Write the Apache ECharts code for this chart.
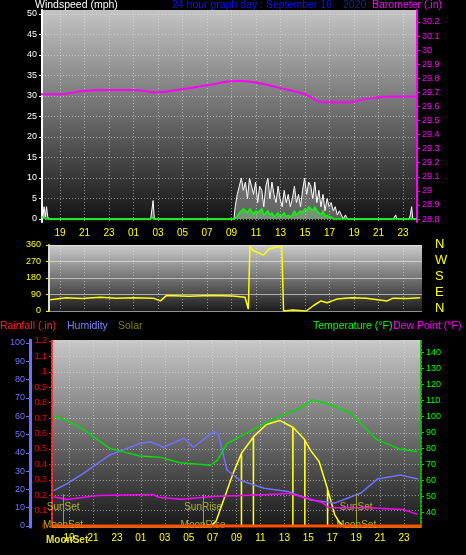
<!DOCTYPE html>
<html>
<head>
<meta charset="utf-8">
<script src="https://cdn.jsdelivr.net/npm/echarts@6/dist/echarts.min.js"></script>
<style>
    html, body { margin: 0; padding: 0; background: #000; }
    #chart { width: 466px; height: 555px; }
</style>
</head>
<body>
<div id="chart"></div>
<script>
// hours counted from 00:00 on the day before (24 = midnight Sep 16)
let hourTicks = [19, 21, 23, 25, 27, 29, 31, 33, 35, 37, 39, 41, 43, 45, 47];

// wind (mph) - quiet stretches
let windHours = [17.5, 17.6, 17.7, 17.8, 17.9, 18.0, 18.1, 26.4, 26.5, 26.6, 26.7, 33.2];
let windGust = [3.5, 0.5, 3, 0.5, 3, 0.5, 0, 0, 0, 4.5, 0, 0];
let windAvg = [0.5, 0.5, 0.3, 0, 0, 0, 0, 0, 0, 0.5, 0, 0];
// windy part of the day, every 10 minutes from 09:18
let activeStart = 33.3;
let gustActive = [3, 6, 8, 10, 7, 9, 5, 10, 8, 6, 9, 4, 8, 7, 3, 8, 10, 5, 9, 6, 4, 8, 5, 3, 7, 4, 6, 3, 5, 8,
    4, 6, 3, 7, 10, 6, 9, 8, 5, 9, 4, 7, 3, 6, 2, 5, 3, 4, 2, 3, 1, 2, 1, 0, 1, 0];
let avgActive = [0, 0.5, 1.5, 2, 2.5, 2, 1.5, 2.5, 2, 1, 2, 1.5, 2, 2.5, 1, 1.5, 2, 1, 1.5, 0.5, 1, 1.5, 0.5, 1, 1.5, 0.5, 1, 0.5, 1, 2,
    1, 1.5, 2, 1.5, 2.5, 2, 3, 2.5, 2, 3, 2, 1.5, 1, 2, 0.5, 1, 0.5, 0.5, 0, 0, 0, 0, 0, 0, 0, 0];
let lateHours = [42.6, 46.2, 46.3, 46.4, 46.5, 47.5, 47.6, 47.7, 47.8, 48.1];
let lateGust = [0, 0, 0, 1, 0, 0, 1, 3, 0, 0];

// barometer (.in)
let baroHours = [17.4, 19.0, 20.9, 22.8, 25.0, 26.9, 28.8, 31.0, 33.4, 35.0, 37.0, 38.9, 40.5, 42.7, 43.8, 45.9, 48.1];
let baroValues = [29.686, 29.686, 29.71, 29.717, 29.717, 29.70, 29.72, 29.75, 29.78, 29.77, 29.73, 29.69, 29.63, 29.63, 29.65, 29.67, 29.67];

// wind direction (deg)
let dirHours = [18.2, 19.5, 20.8, 22.3, 23.6, 25.0, 26.6, 27.2, 27.7, 29.5, 31.3, 33.1, 34.1, 34.37, 34.5, 34.76, 35.6, 36.1, 37.1, 37.2, 37.25, 38.0, 39.1, 39.7, 40.3, 40.8, 41.6, 42.8, 44.0, 45.7, 46.2, 47.3, 48.4];
let dirValues = [62, 72, 68, 75, 70, 72, 70, 55, 85, 80, 84, 82, 75, 10, 350, 330, 305, 340, 355, 360, 0, 5, 0, 30, 55, 45, 65, 72, 70, 55, 70, 68, 72];

// temperature / dew point (F), humidity (%)
let tempHours = [17.7, 18.8, 20.2, 22.4, 24.9, 26.6, 28.3, 30.8, 31.4, 32.2, 34.4, 36.4, 38.3, 39.3, 40.5, 42.5, 44.7, 46.7, 48.1];
let tempValues = [100.2, 97.5, 91.9, 80, 75.2, 74.4, 71, 69.4, 72.5, 83, 91.9, 99.4, 105, 110.2, 108.2, 102.3, 85.6, 79.4, 78];
let humHours = [17.7, 18.8, 20.2, 22.4, 24.9, 25.8, 26.9, 28.6, 29.4, 31.1, 31.5, 31.8, 32.2, 33.3, 35.3, 37.3, 39.2, 41.2, 43.4, 44.8, 46.7, 47.6, 48.2];
let humValues = [19.3, 23, 28.8, 38.8, 45, 46, 43, 48, 43, 51.5, 50, 41.5, 30.6, 25, 20.6, 18.8, 14.2, 12.5, 18, 25.7, 27.9, 26.5, 25.7];
let dewHours = [17.7, 18.8, 21.4, 26.0, 26.5, 28.3, 31.1, 35.6, 37.3, 38.5, 40.2, 40.7, 44.1, 46.9, 48.1];
let dewValues = [49.8, 48.1, 50.6, 51.2, 49.5, 48.3, 50, 51.2, 51.9, 49.8, 46, 42.9, 42.9, 41.9, 38.8];

// solar (W/m2), dips are passing clouds
let solarHours = [17.6, 30.8, 31.3, 32.7, 33.4, 33.41, 33.42, 34.4, 34.41, 34.42, 35.5, 36.6, 37.7, 37.71, 37.72, 38.7, 38.71, 38.72, 39.2, 39.9, 40.6, 40.61, 40.62, 41.2, 41.6, 42.0, 48.4];
let solarValues = [0, 0, 40, 342, 471, 0, 475, 576, 0, 580, 658, 684, 640, 0, 640, 560, 0, 555, 490, 420, 245, 0, 240, 80, 30, 0, 0];

let rainHours = [17.57, 48.42];
let rainValues = [0, 0];

let sunMoon = [
    { h: 18.5, sun: 'SunSet', moon: 'MoonSet' },
    { h: 30.2, sun: 'SunRise', moon: 'MoonRise' },
    { h: 43.0, sun: 'SunSet', moon: 'MoonSet' }
];

function pairs(hours, values) {
    return hours.map((h, i) => [h, values[i]]);
}
function range(a, b, s) {
    let out = [];
    for (let v = a; v <= b + 1e-9; v += s) out.push(+v.toFixed(2));
    return out;
}

let gustData = pairs(windHours, windGust)
    .concat(gustActive.map((v, i) => [activeStart + i / 6, v]))
    .concat(pairs(lateHours, lateGust));
let avgData = pairs(windHours, windAvg)
    .concat(avgActive.map((v, i) => [activeStart + i / 6, v]))
    .concat(pairs(lateHours, lateHours.map(() => 0)));

let myChart = echarts.init(document.getElementById('chart'));
let font = 'Liberation Sans';
let dotted = { show: true, lineStyle: { color: 'rgba(230,230,230,0.55)', type: [1, 2], width: 1 } };
function bg(top, bottom) {
    return new echarts.graphic.LinearGradient(0, 0, 0, 1, [
        { offset: 0, color: top }, { offset: 1, color: bottom }
    ]);
}
function hourLabel(v) {
    let h = Math.round(v) % 24;
    return (h < 10 ? '0' : '') + h;
}
function xAxis(gridIndex, min, max, show, color) {
    return {
        type: 'value', gridIndex: gridIndex, min: min, max: max,
        axisLine: { show: false }, axisTick: { show: false, customValues: hourTicks },
        splitLine: dotted,
        axisLabel: { show: show, customValues: hourTicks, formatter: hourLabel, color: color, fontSize: 10, fontFamily: font, margin: 6 }
    };
}
function yLabel(color) {
    return { color: color, fontSize: 9, fontFamily: font, margin: 5 };
}
function title(x, y, text, color) {
    return { type: 'text', left: x, top: y, style: { text: text, fill: color, font: '10.5px ' + font } };
}

let option = {
    backgroundColor: '#000',
    animation: false,
    grid: [
        { left: 42, top: 10, width: 375, height: 212, show: true, borderWidth: 0, backgroundColor: bg('#c4c4c4', '#121212') },
        { left: 49, top: 245, width: 373, height: 66, show: true, borderWidth: 0, backgroundColor: bg('#cccccc', '#1c1c1c') },
        { left: 52, top: 340, width: 369, height: 187, show: true, borderWidth: 0, backgroundColor: bg('#c8c8c8', '#181818') }
    ],
    xAxis: [
        xAxis(0, 17.53, 48.14, true, '#ffff00'),
        xAxis(1, 18.1, 48.55, false, '#ffff00'),
        xAxis(2, 17.57, 48.42, true, '#ffff00')
    ],
    yAxis: [
        { // 0 windspeed
            type: 'value', gridIndex: 0, position: 'left', min: -0.73, max: 50.97,
            axisLine: { show: true, lineStyle: { color: '#ffffff', width: 2 } },
            axisTick: { show: true, length: 3, customValues: range(0, 50, 5), lineStyle: { color: '#fff' } },
            splitLine: dotted,
            axisLabel: Object.assign(yLabel('#ffffff'), { customValues: range(0, 50, 5) })
        },
        { // 1 barometer
            type: 'value', gridIndex: 0, position: 'right', min: 28.779, max: 30.285,
            axisLine: { show: true, lineStyle: { color: '#ff00ff', width: 2 } },
            axisTick: { show: true, length: 3, customValues: range(28.8, 30.2, 0.1), lineStyle: { color: '#ff00ff' } },
            splitLine: { show: false },
            axisLabel: Object.assign(yLabel('#ff00ff'), { customValues: range(28.8, 30.2, 0.1), formatter: v => String(+v.toFixed(1)) })
        },
        { // 2 direction
            type: 'value', gridIndex: 1, position: 'left', min: 0, max: 360,
            axisLine: { show: true, lineStyle: { color: '#ddd', width: 2 } },
            axisTick: { show: true, length: 3, customValues: [0, 90, 180, 270, 360], lineStyle: { color: '#ff0' } },
            splitLine: { show: true, lineStyle: { color: 'rgba(240,240,240,0.6)', width: 1 } },
            axisLabel: Object.assign(yLabel('#ffff00'), { customValues: [0, 90, 180, 270, 360], margin: 8 })
        },
        { // 3 humidity
            type: 'value', gridIndex: 2, position: 'left', min: -0.55, max: 101.6, offset: 22,
            axisLine: { show: true, lineStyle: { color: '#7070ff', width: 3 } },
            axisTick: { show: true, length: 4, customValues: range(0, 100, 10), lineStyle: { color: '#7070ff' } },
            splitLine: { show: false },
            axisLabel: Object.assign(yLabel('#7070ff'), { customValues: range(0, 100, 10) })
        },
        { // 4 rainfall
            type: 'value', gridIndex: 2, position: 'left', min: -0.006, max: 1.206,
            axisLine: { show: true, lineStyle: { color: '#ff3030', width: 2, type: [2, 2] } },
            axisTick: { show: true, length: 3, customValues: range(0, 1.2, 0.1), lineStyle: { color: '#f00' } },
            splitLine: dotted,
            axisLabel: Object.assign(yLabel('#ff0000'), { customValues: range(0, 1.2, 0.1), formatter: v => String(+v.toFixed(1)) })
        },
        { // 5 temperature
            type: 'value', gridIndex: 2, position: 'right', min: 30.9, max: 147.7,
            axisLine: { show: true, lineStyle: { color: '#00c000', width: 2, type: [2, 2] } },
            axisTick: { show: true, length: 3, customValues: range(40, 140, 10), lineStyle: { color: '#0c0' } },
            splitLine: { show: false },
            axisLabel: Object.assign(yLabel('#00ff00'), { customValues: range(40, 140, 10) })
        },
        { // 6 solar (hidden)
            type: 'value', gridIndex: 2, position: 'right', min: 0, max: 1200, show: false, splitLine: { show: false }
        }
    ],
    series: [
        {
            name: 'Gust', type: 'line', xAxisIndex: 0, yAxisIndex: 0, symbol: 'none',
            lineStyle: { color: '#ffffff', width: 1 }, areaStyle: { color: 'rgba(235,235,235,0.5)' },
            data: gustData
        },
        {
            name: 'Average', type: 'line', xAxisIndex: 0, yAxisIndex: 0, symbol: 'none',
            lineStyle: { color: '#00ff00', width: 1.5 }, areaStyle: { color: 'rgba(160,255,160,0.45)' },
            data: avgData
        },
        {
            name: 'Barometer', type: 'line', xAxisIndex: 0, yAxisIndex: 1, symbol: 'none', smooth: 0.4,
            lineStyle: { color: '#ff00ff', width: 2 }, data: pairs(baroHours, baroValues)
        },
        {
            name: 'Direction', type: 'line', xAxisIndex: 1, yAxisIndex: 2, symbol: 'none',
            lineStyle: { color: '#ffff00', width: 1.5 }, data: pairs(dirHours, dirValues)
        },
        {
            name: 'Solar', type: 'line', xAxisIndex: 2, yAxisIndex: 6, symbol: 'none',
            lineStyle: { color: '#ffff20', width: 1.5 }, data: pairs(solarHours, solarValues),
            markLine: {
                symbol: 'none', silent: true,
                lineStyle: { color: '#a0a020', type: 'solid', width: 1 },
                label: { show: false },
                data: sunMoon.map(s => [{ coord: [s.h, 0] }, { coord: [s.h, 210] }])
            }
        },
        {
            name: 'Humidity', type: 'line', xAxisIndex: 2, yAxisIndex: 3, symbol: 'none',
            lineStyle: { color: '#7070ff', width: 1.5 }, data: pairs(humHours, humValues)
        },
        {
            name: 'Temperature', type: 'line', xAxisIndex: 2, yAxisIndex: 5, symbol: 'none',
            lineStyle: { color: '#00dd00', width: 1.5 }, data: pairs(tempHours, tempValues)
        },
        {
            name: 'Dew Point', type: 'line', xAxisIndex: 2, yAxisIndex: 5, symbol: 'none',
            lineStyle: { color: '#ff00ff', width: 1.5 }, data: pairs(dewHours, dewValues)
        },
        {
            name: 'Rainfall', type: 'line', xAxisIndex: 2, yAxisIndex: 4, symbol: 'none',
            lineStyle: { color: '#ff5000', width: 3 }, data: pairs(rainHours, rainValues)
        },
        {
            name: 'SunMoon', type: 'scatter', xAxisIndex: 2, yAxisIndex: 3, symbolSize: 0, silent: true,
            label: { show: true, formatter: p => p.data[2], color: '#d0d030', fontSize: 10, fontFamily: font, position: 'inside' },
            data: sunMoon.map(s => [s.h, 10.5, s.sun]).concat(sunMoon.map(s => [s.h, 0.6, s.moon]))
        }
    ],
    graphic: [
        title(35, 0, 'Windspeed (mph)', '#fff'),
        title(172, 0, '24 hour graph day : September 16', '#1010ff'),
        title(343, 0, '2020', '#202080'),
        title(372, 0, 'Barometer (.in)', '#ff00ff'),
        { type: 'text', left: 435, top: 238, style: { text: 'N', fill: '#ffff00', font: '13px ' + font } },
        { type: 'text', left: 435, top: 254, style: { text: 'W', fill: '#ffff00', font: '13px ' + font } },
        { type: 'text', left: 435, top: 270, style: { text: 'S', fill: '#ffff00', font: '13px ' + font } },
        { type: 'text', left: 435, top: 286, style: { text: 'E', fill: '#ffff00', font: '13px ' + font } },
        { type: 'text', left: 435, top: 302, style: { text: 'N', fill: '#ffff00', font: '13px ' + font } },
        title(0, 321, 'Rainfall (.in)', '#ff2020'),
        title(67, 321, 'Humidity', '#8080ff'),
        title(118, 321, 'Solar', '#808000'),
        title(313, 321, 'Temperature (°F)', '#00ff00'),
        title(393, 321, 'Dew Point (°F)', '#ff00ff'),
        { type: 'text', left: 46, top: 535, style: { text: 'MoonSet', fill: '#e0e040', font: 'bold 10px ' + font } }
    ]
};
myChart.setOption(option);
</script>
</body>
</html>
